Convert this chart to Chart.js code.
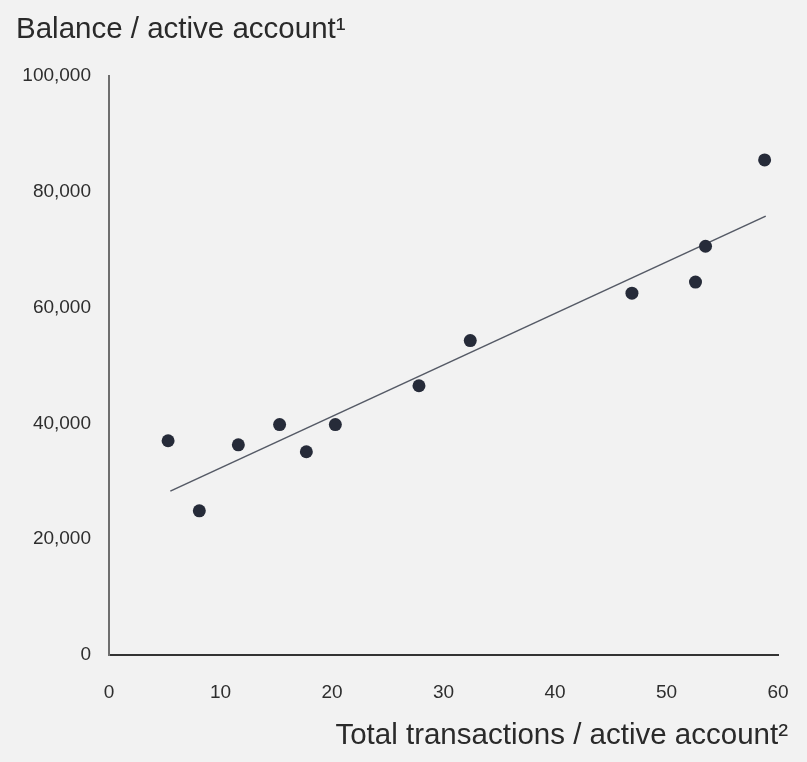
<!DOCTYPE html>
<html>
<head>
<meta charset="utf-8">
<script src="https://cdn.jsdelivr.net/npm/chart.js@4"></script>
<style>
  html, body { margin: 0; padding: 0; background: #f2f2f2; }
  #wrap { position: relative; width: 807px; height: 762px; }
  #chart { position: absolute; left: 0; top: 0; }
  .lbl { position: absolute; font-family: 'Liberation Sans', Arial, sans-serif; color: #2a2a2a; line-height: 1; white-space: nowrap; }
  #ytitle { left: 16px; top: 13px; font-size: 29.5px; }
  #xtitle { right: 19px; top: 719px; font-size: 29.5px; }
</style>
</head>
<body>
<div id="wrap">
  <canvas id="chart" width="807" height="762"></canvas>
  <div class="lbl" id="ytitle">Balance / active account¹</div>
  <div class="lbl" id="xtitle">Total transactions / active account²</div>
</div>
<script>
// values
const txPerAccount = [5.3, 8.1, 11.6, 15.3, 17.7, 20.3, 27.8, 32.4, 46.9, 52.6, 53.5, 58.8];
const balancePerAccount = [37000, 24900, 36300, 39800, 35100, 39800, 46500, 54300, 62500, 64400, 70600, 85500];
const trendX = [5.5, 58.9];
const trendY = [28300, 75800];
const xTicks = [0, 10, 20, 30, 40, 50, 60];
const yTicks = [0, 20000, 40000, 60000, 80000, 100000];

const F = "'Liberation Sans', Arial, sans-serif";
const TXT = '#2e2e2e';
Chart.defaults.font.family = F;

const pts = txPerAccount.map((x, i) => ({ x, y: balancePerAccount[i] }));
const trend = trendX.map((x, i) => ({ x, y: trendY[i] }));

new Chart(document.getElementById('chart'), {
  type: 'scatter',
  data: {
    datasets: [
      {
        label: 'Banks', data: pts,
        backgroundColor: '#262b39', borderColor: '#262b39', borderWidth: 0,
        pointRadius: 6.5, pointHoverRadius: 6.5
      },
      {
        label: 'Trend', data: trend, type: 'line', showLine: true,
        borderColor: '#555a66', borderWidth: 1.6, pointRadius: 0, fill: false
      }
    ]
  },
  options: {
    responsive: false, animation: false,
    layout: { padding: { left: 0, top: 76, right: 29, bottom: 0 } },
    plugins: { legend: { display: false }, tooltip: { enabled: false } },
    scales: {
      x: {
        type: 'linear', min: xTicks[0], max: xTicks[xTicks.length - 1],
        afterBuildTicks: a => { a.ticks = xTicks.map(v => ({ value: v })); },
        afterFit: a => { a.height = 107; a.paddingLeft = 0; a.paddingRight = 0; },
        grid: { display: false, drawTicks: false },
        border: { display: true, color: '#333', width: 2 },
        ticks: { color: TXT, font: { size: 19 }, padding: 26, maxRotation: 0 }
      },
      y: {
        type: 'linear', min: yTicks[0], max: yTicks[yTicks.length - 1],
        afterBuildTicks: a => { a.ticks = yTicks.map(v => ({ value: v })); },
        afterFit: a => { a.width = 109; a.paddingTop = 0; a.paddingBottom = 0; },
        grid: { display: false, drawTicks: false },
        border: { display: true, color: '#6e6e6e', width: 2 },
        ticks: { color: TXT, font: { size: 19 }, padding: 18, callback: v => v.toLocaleString('en-US') }
      }
    }
  }
});
</script>
</body>
</html>
